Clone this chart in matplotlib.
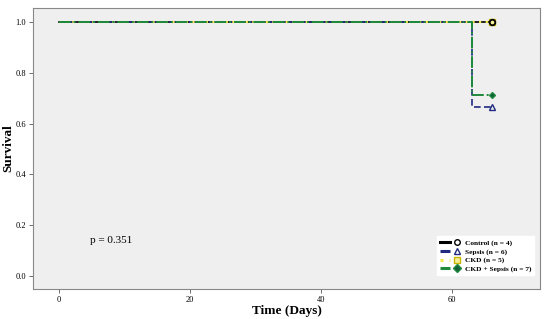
import matplotlib
matplotlib.use("Agg")
import matplotlib.pyplot as plt
from matplotlib.lines import Line2D
from matplotlib.legend_handler import HandlerTuple

plt.rcParams['font.family'] = ['Liberation Serif', 'DejaVu Serif']

# Kaplan-Meier step data (time in days, survival)
groups = ['Control (n = 4)', 'Sepsis (n = 6)', 'CKD (n = 5)', 'CKD + Sepsis (n = 7)']
times = [
    [0, 66],
    [0, 63, 63, 66],
    [0, 66],
    [0, 63, 63, 66],
]
surv = [
    [1.0, 1.0],
    [1.0, 1.0, 0.667, 0.667],
    [1.0, 1.0],
    [1.0, 1.0, 0.714, 0.714],
]
colors = ['#000000', '#1f2a80', '#f2e84a', '#1e8a3c']
styles = ['-', (0, (4, 2)), (0, (1, 2)), (0, (6, 1.5, 1, 1.5))]
markers = ['o', '^', 's', 'D']
mfaces = ['none', 'none', '#f5ef9a', '#14603a']
widths = [1.2, 1.2, 1.6, 1.4]

fig = plt.figure(figsize=(5.5, 3.19), dpi=100)
ax = fig.add_axes([0.06, 0.094, 0.922, 0.881])
ax.set_facecolor('#efefef')

handles = []
for i in range(len(groups)):
    ax.plot(times[i], surv[i], color=colors[i], linestyle=styles[i], lw=widths[i], zorder=2 + i)
    ms = 4 if markers[i] != 'D' else 3
    ax.plot(times[i][-1], surv[i][-1], marker=markers[i], color=colors[i] if i != 2 else '#c8b400',
            markerfacecolor=mfaces[i], markersize=ms, markeredgewidth=1.3 if i == 0 else 1.0,
            linestyle='none', zorder=6 + (1 if i == 0 else 0))
    ln = Line2D([], [], color=colors[i], lw=2.2, linestyle=styles[i])
    mk = Line2D([], [], marker=markers[i], color=colors[i] if i != 2 else '#c8b400',
                markerfacecolor=mfaces[i], markersize=4, linestyle='none')
    handles.append((ln, mk))

ax.set_xlim(-4, 73.4)
ax.set_ylim(-0.051, 1.055)
ax.set_xticks([0, 20, 40, 60])
ax.set_yticks([0.0, 0.2, 0.4, 0.6, 0.8, 1.0])
ax.set_yticklabels(['0.0', '0.2', '0.4', '0.6', '0.8', '1.0'])
ax.tick_params(labelsize=6, length=3, width=0.6, color='#555555', pad=2)
for s in ax.spines.values():
    s.set_color('#888888')
    s.set_linewidth(0.8)

ax.set_xlabel('Time (Days)', fontsize=9.5, fontweight='bold', labelpad=1)
ax.set_ylabel('Survival', fontsize=9.5, fontweight='bold')
ax.yaxis.set_label_coords(-0.036, 0.5)

ax.text(4.7, 0.138, 'p = 0.351', fontsize=8, va='center')

leg = ax.legend(handles, groups, handler_map={tuple: HandlerTuple(ndivide=None, pad=0.3)},
                loc='lower right', bbox_to_anchor=(0.996, 0.035), prop={'size': 5.3, 'weight': 'bold'},
                frameon=True, fancybox=False, edgecolor='white', framealpha=1,
                handlelength=3.0, handletextpad=0.3, labelspacing=0.3, borderpad=0.45)

fig.savefig('out.png', dpi=100)
